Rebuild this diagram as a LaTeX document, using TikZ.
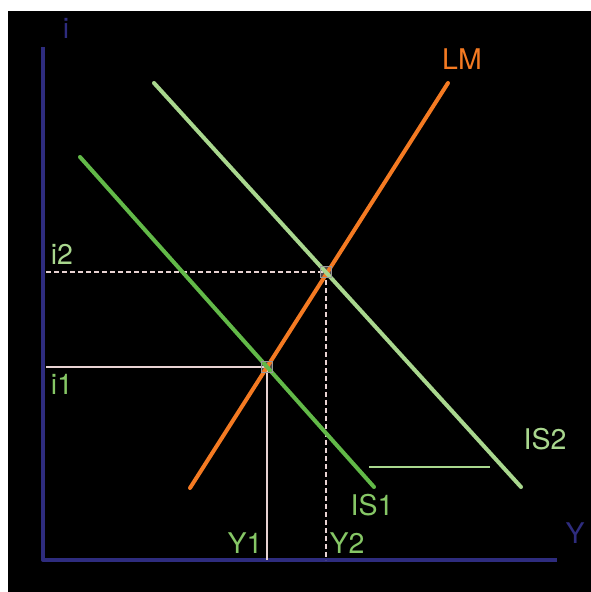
\documentclass[tikz,border=0pt]{standalone}
\usepackage{fontspec}
\setmainfont{TeX Gyre Heros}
\usepackage{xcolor}
\definecolor{axisblue}{HTML}{2E2C7E}
\definecolor{lmorange}{HTML}{F47A22}
\definecolor{isgreen}{HTML}{62B948}
\definecolor{islight}{HTML}{A9D78E}
\definecolor{guide}{HTML}{E9D3D3}
\definecolor{lblgreen}{HTML}{86C766}

\begin{document}
\begin{tikzpicture}[x=1pt, y=-1pt,
  lbl/.style={inner sep=0pt, font=\fontsize{28.5}{30}\selectfont},
  axis/.style={draw=axisblue, line width=4pt},
  curve/.style={line width=4pt, line cap=round},
  guideline/.style={draw=guide, line width=1.5pt},
  mark box/.style={draw=gray!80, fill=guide, fill opacity=0.35, minimum size=11pt, inner sep=0pt}
]
\useasboundingbox (0,0) rectangle (591,592);
\fill[white] (0,0) rectangle (591,592);
\fill[black] (8,11) rectangle (591,592);
% axes
\coordinate (o) at (43,560);
\coordinate (ytop) at (43,47);
\coordinate (xend) at (557,560);
\draw[axis, line join=round] (ytop) -- (o) -- (xend);
\node[lbl, text=axisblue] (ilab) at (66,28) {i};
\node[lbl, text=axisblue] (ylab) at (575,533) {Y};
% curve ends
\coordinate (lm0) at (190,488);
\coordinate (lm1) at (448,83);
\coordinate (isa0) at (80,157);
\coordinate (isa1) at (374,487);
\coordinate (isb0) at (154,83);
\coordinate (isb1) at (521,487);
% equilibria
\node[mark box] (e1) at (267,367) {};
\node[mark box] (e2) at (326,272) {};
\coordinate (i1) at (46,367);
\coordinate (i2) at (46,272);
\coordinate (y1) at (267,560);
\coordinate (y2) at (326,560);
\draw[guideline] (i1) -- (e1.center) -- (y1);
\draw[guideline, dash pattern=on 5pt off 3pt] (i2) -- (e2.center) -- (y2);
% curves
\draw[curve, draw=lmorange] (lm0) -- (lm1);
\draw[curve, draw=isgreen] (isa0) -- (isa1);
\draw[curve, draw=islight] (isb0) -- (isb1);
\node[mark box, fill=none] at (e1) {};
\node[mark box, fill=none] at (e2) {};
% shift bar
\coordinate (s0) at (369,467);
\coordinate (s1) at (490,467);
\draw[draw=islight, line width=2.5pt] (s0) -- (s1);
% labels
\node[lbl, text=lmorange] (lmlab) at (462,59) {LM};
\node[lbl, text=lblgreen] (is1lab) at (372,505) {IS1};
\node[lbl, text=islight] (is2lab) at (545,439) {IS2};
\node[lbl, text=lblgreen] (y1lab) at (245,543) {Y1};
\node[lbl, text=lblgreen] (y2lab) at (347,543) {Y2};
\node[lbl, text=islight] (i2lab) at (62,254) {i2};
\node[lbl, text=lblgreen] (i1lab) at (62,384) {i1};
\end{tikzpicture}
\end{document}
